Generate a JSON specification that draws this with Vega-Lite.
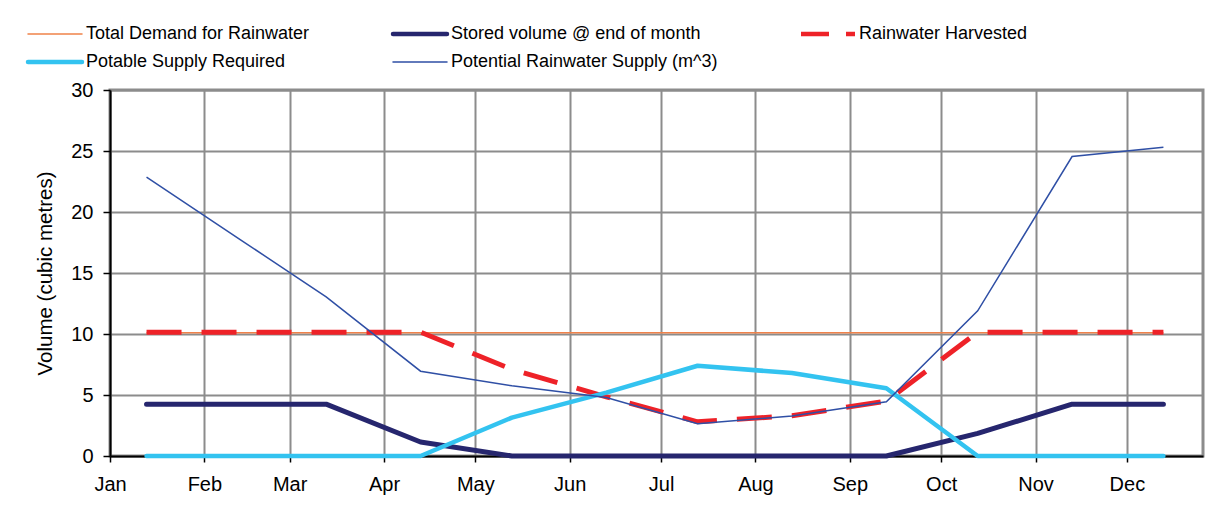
{
  "$schema": "https://vega.github.io/schema/vega-lite/v6.json",
  "width": 1093,
  "height": 366,
  "autosize": {"type": "none"},
  "padding": {"left": 110, "top": 90, "right": 23, "bottom": 56},
  "background": "white",
  "config": {
    "font": "Liberation Sans",
    "view": {"stroke": "#8c8c8c", "strokeWidth": 3}
  },
  "data": {
    "values": [
      {"date": "2001-01-13T00:00", "series": "Total Demand for Rainwater", "value": 10.1},
      {"date": "2001-02-13T00:00", "series": "Total Demand for Rainwater", "value": 10.1},
      {"date": "2001-03-13T00:00", "series": "Total Demand for Rainwater", "value": 10.1},
      {"date": "2001-04-13T00:00", "series": "Total Demand for Rainwater", "value": 10.1},
      {"date": "2001-05-13T00:00", "series": "Total Demand for Rainwater", "value": 10.1},
      {"date": "2001-06-13T00:00", "series": "Total Demand for Rainwater", "value": 10.1},
      {"date": "2001-07-13T00:00", "series": "Total Demand for Rainwater", "value": 10.1},
      {"date": "2001-08-13T00:00", "series": "Total Demand for Rainwater", "value": 10.1},
      {"date": "2001-09-13T00:00", "series": "Total Demand for Rainwater", "value": 10.1},
      {"date": "2001-10-13T00:00", "series": "Total Demand for Rainwater", "value": 10.1},
      {"date": "2001-11-13T00:00", "series": "Total Demand for Rainwater", "value": 10.1},
      {"date": "2001-12-13T00:00", "series": "Total Demand for Rainwater", "value": 10.1},
      {"date": "2001-01-13T00:00", "series": "Stored volume @ end of month", "value": 4.25},
      {"date": "2001-02-13T00:00", "series": "Stored volume @ end of month", "value": 4.25},
      {"date": "2001-03-13T00:00", "series": "Stored volume @ end of month", "value": 4.25},
      {"date": "2001-04-13T00:00", "series": "Stored volume @ end of month", "value": 1.15},
      {"date": "2001-05-13T00:00", "series": "Stored volume @ end of month", "value": 0},
      {"date": "2001-06-13T00:00", "series": "Stored volume @ end of month", "value": 0},
      {"date": "2001-07-13T00:00", "series": "Stored volume @ end of month", "value": 0},
      {"date": "2001-08-13T00:00", "series": "Stored volume @ end of month", "value": 0},
      {"date": "2001-09-13T00:00", "series": "Stored volume @ end of month", "value": 0},
      {"date": "2001-10-13T00:00", "series": "Stored volume @ end of month", "value": 1.85},
      {"date": "2001-11-13T00:00", "series": "Stored volume @ end of month", "value": 4.25},
      {"date": "2001-12-13T00:00", "series": "Stored volume @ end of month", "value": 4.25},
      {"date": "2001-01-13T00:00", "series": "Rainwater Harvested", "value": 10.15},
      {"date": "2001-02-13T00:00", "series": "Rainwater Harvested", "value": 10.15},
      {"date": "2001-03-13T00:00", "series": "Rainwater Harvested", "value": 10.15},
      {"date": "2001-04-13T00:00", "series": "Rainwater Harvested", "value": 10.15},
      {"date": "2001-05-13T00:00", "series": "Rainwater Harvested", "value": 7.1},
      {"date": "2001-06-13T00:00", "series": "Rainwater Harvested", "value": 4.85},
      {"date": "2001-07-13T00:00", "series": "Rainwater Harvested", "value": 2.8},
      {"date": "2001-08-13T00:00", "series": "Rainwater Harvested", "value": 3.3},
      {"date": "2001-09-13T00:00", "series": "Rainwater Harvested", "value": 4.5},
      {"date": "2001-10-13T00:00", "series": "Rainwater Harvested", "value": 10.15},
      {"date": "2001-11-13T00:00", "series": "Rainwater Harvested", "value": 10.15},
      {"date": "2001-12-13T00:00", "series": "Rainwater Harvested", "value": 10.15},
      {"date": "2001-01-13T00:00", "series": "Potable Supply Required", "value": 0},
      {"date": "2001-02-13T00:00", "series": "Potable Supply Required", "value": 0},
      {"date": "2001-03-13T00:00", "series": "Potable Supply Required", "value": 0},
      {"date": "2001-04-13T00:00", "series": "Potable Supply Required", "value": 0},
      {"date": "2001-05-13T00:00", "series": "Potable Supply Required", "value": 3.15},
      {"date": "2001-06-13T00:00", "series": "Potable Supply Required", "value": 5.2},
      {"date": "2001-07-13T00:00", "series": "Potable Supply Required", "value": 7.4},
      {"date": "2001-08-13T00:00", "series": "Potable Supply Required", "value": 6.8},
      {"date": "2001-09-13T00:00", "series": "Potable Supply Required", "value": 5.55},
      {"date": "2001-10-13T00:00", "series": "Potable Supply Required", "value": 0},
      {"date": "2001-11-13T00:00", "series": "Potable Supply Required", "value": 0},
      {"date": "2001-12-13T00:00", "series": "Potable Supply Required", "value": 0},
      {"date": "2001-01-13T00:00", "series": "Potential Rainwater Supply (m^3)", "value": 22.85},
      {"date": "2001-02-13T00:00", "series": "Potential Rainwater Supply (m^3)", "value": 17.7},
      {"date": "2001-03-13T00:00", "series": "Potential Rainwater Supply (m^3)", "value": 13.05},
      {"date": "2001-04-13T00:00", "series": "Potential Rainwater Supply (m^3)", "value": 6.95},
      {"date": "2001-05-13T00:00", "series": "Potential Rainwater Supply (m^3)", "value": 5.75},
      {"date": "2001-06-13T00:00", "series": "Potential Rainwater Supply (m^3)", "value": 4.8},
      {"date": "2001-07-13T00:00", "series": "Potential Rainwater Supply (m^3)", "value": 2.65},
      {"date": "2001-08-13T00:00", "series": "Potential Rainwater Supply (m^3)", "value": 3.28},
      {"date": "2001-09-13T00:00", "series": "Potential Rainwater Supply (m^3)", "value": 4.45},
      {"date": "2001-10-13T00:00", "series": "Potential Rainwater Supply (m^3)", "value": 11.9},
      {"date": "2001-11-13T00:00", "series": "Potential Rainwater Supply (m^3)", "value": 24.55},
      {"date": "2001-12-13T00:00", "series": "Potential Rainwater Supply (m^3)", "value": 25.3}
    ]
  },
  "encoding": {
    "x": {
      "field": "date",
      "type": "temporal",
      "scale": {"domain": [{"year": 2001, "month": 1, "date": 1}, {"year": 2001, "month": 12, "date": 26}]},
      "axis": {
        "title": null,
        "format": "%b",
        "tickCount": {"interval": "month", "step": 1},
        "labelFontSize": 20,
        "labelFont": "Liberation Sans",
        "labelColor": "black",
        "labelPadding": 12,
        "labelFlush": false,
        "labelOverlap": false,
        "labelBound": false,
        "tickSize": 6,
        "tickColor": "black",
        "tickWidth": 1.5,
        "domainColor": "black",
        "domainWidth": 2,
        "gridColor": "#8c8c8c",
        "gridWidth": 2,
        "gridOpacity": 1
      }
    },
    "y": {
      "field": "value",
      "type": "quantitative",
      "scale": {"domain": [0, 30], "nice": false},
      "axis": {
        "title": "Volume (cubic metres)",
        "titleFontSize": 20.5,
        "titleFontWeight": "normal",
        "titleFont": "Liberation Sans",
        "titleColor": "black",
        "titlePadding": 15,
        "values": [0, 5, 10, 15, 20, 25, 30],
        "labelFontSize": 20,
        "labelFont": "Liberation Sans",
        "labelColor": "black",
        "labelPadding": 10,
        "tickSize": 7,
        "tickColor": "black",
        "tickWidth": 1.5,
        "domainColor": "black",
        "domainWidth": 2,
        "gridColor": "#8c8c8c",
        "gridWidth": 2,
        "gridOpacity": 1
      }
    },
    "color": {
      "field": "series",
      "type": "nominal",
      "scale": {
        "domain": ["Total Demand for Rainwater", "Stored volume @ end of month", "Rainwater Harvested", "Potable Supply Required", "Potential Rainwater Supply (m^3)"],
        "range": ["#F0824A", "#26266E", "#EE2228", "#33C3F0", "#2F4FA5"]
      },
      "legend": {
        "title": null,
        "orient": "none",
        "direction": "horizontal",
        "legendX": -82,
        "legendY": -65,
        "columns": 3,
        "columnPadding": 74,
        "rowPadding": 10,
        "padding": 0,
        "symbolType": "stroke",
        "symbolSize": 2916,
        "symbolOffset": 18,
        "labelFontSize": 18,
        "labelFont": "Liberation Sans",
        "labelColor": "black",
        "labelOffset": 22,
        "labelLimit": 400,
        "encode": {
          "symbols": {
            "update": {
              "strokeWidth": {"signal": "(datum.value === 'Stored volume @ end of month' || datum.value === 'Rainwater Harvested' || datum.value === 'Potable Supply Required') ? 4.5 : 1.5"},
              "strokeDash": {"signal": "datum.value === 'Rainwater Harvested' ? [28, 17] : [1, 0]"},
              "strokeCap": {"signal": "datum.value === 'Rainwater Harvested' ? 'butt' : 'round'"}
            }
          }
        }
      }
    }
  },
  "layer": [
    {
      "transform": [{"filter": "datum.series === 'Total Demand for Rainwater'"}],
      "mark": {"type": "line", "strokeWidth": 1.5}
    },
    {
      "transform": [{"filter": "datum.series === 'Stored volume @ end of month'"}],
      "mark": {"type": "line", "strokeWidth": 5, "strokeCap": "round", "strokeJoin": "round"}
    },
    {
      "transform": [{"filter": "datum.series === 'Rainwater Harvested'"}],
      "mark": {"type": "line", "strokeWidth": 5, "strokeDash": [35, 20], "strokeCap": "butt"}
    },
    {
      "transform": [{"filter": "datum.series === 'Potable Supply Required'"}],
      "mark": {"type": "line", "strokeWidth": 4.5, "strokeCap": "round", "strokeJoin": "round"}
    },
    {
      "transform": [{"filter": "datum.series === 'Potential Rainwater Supply (m^3)'"}],
      "mark": {"type": "line", "strokeWidth": 1.5}
    }
  ]
}
